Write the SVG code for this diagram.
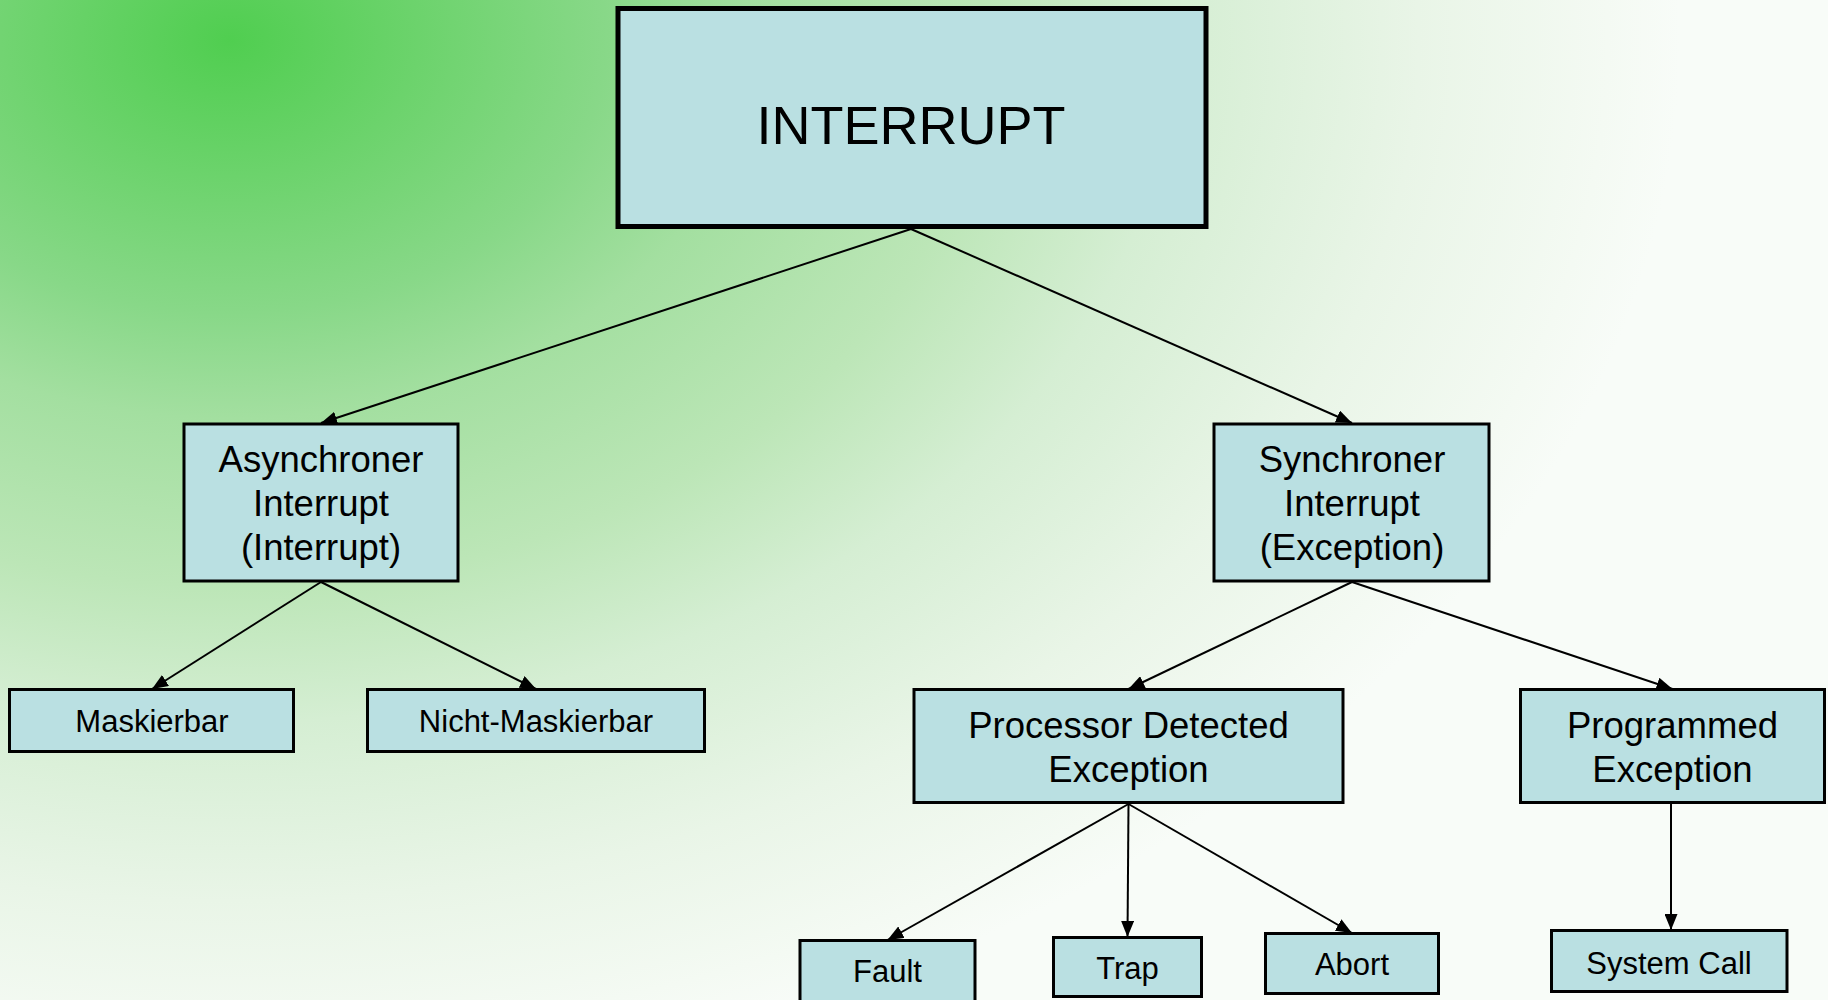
<svg xmlns="http://www.w3.org/2000/svg" width="1828" height="1000" viewBox="0 0 1828 1000">
<defs>
<radialGradient id="bg" gradientUnits="userSpaceOnUse" cx="0" cy="0" r="1" gradientTransform="translate(230,40) scale(1450,1050)">
<stop offset="0" stop-color="#50CE50"/>
<stop offset="0.26" stop-color="#88D888"/>
<stop offset="0.36" stop-color="#A3DFA0"/>
<stop offset="0.52" stop-color="#BCE6B7"/>
<stop offset="0.65" stop-color="#D5EED3"/>
<stop offset="0.82" stop-color="#E9F5E7"/>
<stop offset="0.95" stop-color="#F4FAF3"/>
<stop offset="1" stop-color="#F8FCF8"/>
</radialGradient>
<marker id="arr" markerUnits="userSpaceOnUse" markerWidth="16" markerHeight="13" refX="16" refY="6.5" orient="auto">
<path d="M0,0 L16,6.5 L0,13 z" fill="#000"/>
</marker>
</defs>
<style>
.box{fill:#BAE0E2;stroke:#000;stroke-width:3}
.big{stroke-width:5}
.t{font-family:"Liberation Sans",Arial,sans-serif;fill:#000;text-anchor:middle}
.t36{font-size:36.5px}
.t31{font-size:31px}
.con line{stroke:#000;stroke-width:2;marker-end:url(#arr)}
</style>
<rect x="0" y="0" width="1828" height="1000" fill="url(#bg)"/>
<g class="con" id="connectors">
<line x1="911" y1="229" x2="321" y2="423"/>
<line x1="911" y1="229" x2="1352" y2="423"/>
<line x1="321" y1="582" x2="152" y2="689"/>
<line x1="321" y1="582" x2="536" y2="689"/>
<line x1="1352" y1="582" x2="1128.5" y2="689"/>
<line x1="1352" y1="582" x2="1672.5" y2="689"/>
<line x1="1128.5" y1="804" x2="887.5" y2="940"/>
<line x1="1128.5" y1="804" x2="1127.5" y2="937"/>
<line x1="1128.5" y1="804" x2="1352" y2="933"/>
<line x1="1671" y1="804" x2="1671" y2="930"/>
</g>
<g id="interrupt">
<rect class="box big" x="618" y="8.5" width="588" height="218"/>
<text class="t" x="911" y="144" font-size="54">INTERRUPT</text>
</g>
<g id="asynchroner">
<rect class="box" x="184" y="424" width="274" height="157"/>
<text class="t t36" x="321" y="472">Asynchroner</text>
<text class="t t36" x="321" y="516">Interrupt</text>
<text class="t t36" x="321" y="560">(Interrupt)</text>
</g>
<g id="synchroner">
<rect class="box" x="1214" y="424" width="275" height="157"/>
<text class="t t36" x="1352" y="472">Synchroner</text>
<text class="t t36" x="1352" y="516">Interrupt</text>
<text class="t t36" x="1352" y="560">(Exception)</text>
</g>
<g id="maskierbar">
<rect class="box" x="9.5" y="689.5" width="284" height="62"/>
<text class="t t31" x="152" y="732">Maskierbar</text>
</g>
<g id="nicht-maskierbar">
<rect class="box" x="367.5" y="689.5" width="337" height="62"/>
<text class="t t31" x="536" y="732">Nicht-Maskierbar</text>
</g>
<g id="processor">
<rect class="box" x="914" y="689.5" width="429" height="113"/>
<text class="t t36" x="1128.5" y="738">Processor Detected</text>
<text class="t t36" x="1128.5" y="782">Exception</text>
</g>
<g id="programmed">
<rect class="box" x="1520.5" y="689.5" width="304" height="113"/>
<text class="t t36" x="1672.5" y="738">Programmed</text>
<text class="t t36" x="1672.5" y="782">Exception</text>
</g>
<g id="fault">
<rect class="box" x="800" y="940.5" width="175" height="70"/>
<text class="t t31" x="887.5" y="982">Fault</text>
</g>
<g id="trap">
<rect class="box" x="1053.5" y="937.5" width="148" height="59"/>
<text class="t t31" x="1127.5" y="979">Trap</text>
</g>
<g id="abort">
<rect class="box" x="1265.5" y="933.5" width="173" height="60"/>
<text class="t t31" x="1352" y="975">Abort</text>
</g>
<g id="system-call">
<rect class="box" x="1551.5" y="930.5" width="235.5" height="61"/>
<text class="t t31" x="1669" y="974">System Call</text>
</g>
</svg>
